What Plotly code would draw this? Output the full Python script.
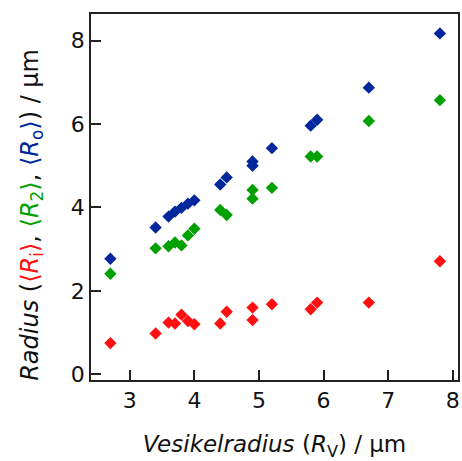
import plotly.graph_objects as go

# Vesicle radius R_V (µm) for each measured vesicle
vesicle_radius = [2.7, 3.4, 3.6, 3.7, 3.8, 3.9, 4.0, 4.4, 4.5, 4.9, 4.9, 5.2, 5.8, 5.9, 6.7, 7.8]

# Mean radii per vesicle (µm)
r_inner = [0.75, 0.98, 1.24, 1.22, 1.43, 1.28, 1.20, 1.22, 1.50, 1.60, 1.30, 1.68, 1.56, 1.72, 1.72, 2.71]
r_second = [2.41, 3.02, 3.07, 3.16, 3.09, 3.33, 3.49, 3.94, 3.82, 4.42, 4.21, 4.47, 5.22, 5.22, 6.07, 6.57]
r_outer = [2.77, 3.52, 3.78, 3.90, 3.99, 4.09, 4.17, 4.55, 4.72, 5.10, 5.00, 5.42, 5.96, 6.10, 6.87, 8.17]

x_ticks = [3, 4, 5, 6, 7, 8]
y_ticks = [0, 2, 4, 6, 8]

RED = "#ff1010"
GREEN = "#00a000"
BLUE = "#00279c"
FONT = "DejaVu Sans, Liberation Sans, Arial, sans-serif"

fig = go.Figure()
for vals, col in [(r_inner, RED), (r_second, GREEN), (r_outer, BLUE)]:
    fig.add_trace(go.Scatter(
        x=vesicle_radius, y=vals, mode="markers",
        marker=dict(symbol="diamond", size=9.5, color=col, line=dict(width=0)),
        showlegend=False, hoverinfo="x+y",
    ))

y_title = (
    "<i>Radius</i> ("
    f"<span style='color:{RED}'>⟨<i>R</i><sub>i</sub>⟩</span>, "
    f"<span style='color:{GREEN}'>⟨<i>R</i><sub>2</sub>⟩</span>, "
    f"<span style='color:{BLUE}'>⟨<i>R</i><sub>o</sub>⟩</span>) / µm"
)
x_title = "<i>Vesikelradius</i> (<i>R</i><sub>V</sub>) / µm"

axis_common = dict(
    showline=True, linecolor="#222", linewidth=1.5, mirror=True,
    ticks="inside", ticklen=10, tickwidth=1.5, tickcolor="#222",
    showgrid=False, zeroline=False,
    tickfont=dict(family=FONT, size=22, color="#111"),
)

fig.update_layout(
    width=462, height=461,
    margin=dict(l=91, r=2, t=14, b=78),
    paper_bgcolor="white", plot_bgcolor="white",
    font=dict(family=FONT, color="#111"),
    xaxis=dict(
        range=[2.4, 8.08], tickvals=x_ticks, ticktext=[str(t) for t in x_ticks],
        title=dict(text=x_title, font=dict(size=23), standoff=30),
        **axis_common,
    ),
    yaxis=dict(
        range=[-0.135, 8.635], tickvals=y_ticks, ticktext=[str(t) for t in y_ticks],
        **axis_common,
    ),
)

# Rotated y-axis title, placed slightly below the plot-area centre
fig.add_annotation(
    text=y_title, textangle=-90, font=dict(size=24, family=FONT, color="#111"),
    xref="paper", yref="paper", x=-0.162, y=0.45,
    xanchor="center", yanchor="middle", showarrow=False,
)

fig.write_html("out.html")
